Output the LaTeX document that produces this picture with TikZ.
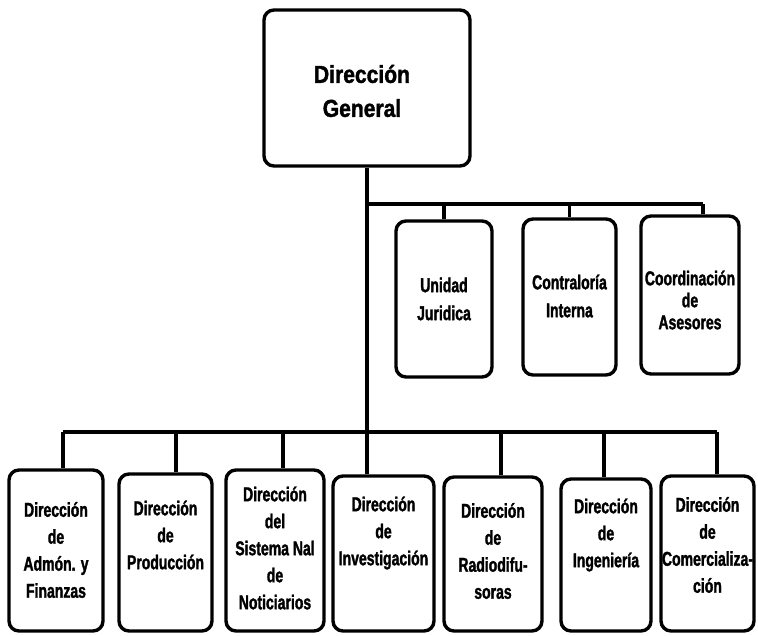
\documentclass[tikz,border=0pt]{standalone}
\usepackage{fontspec}
\setmainfont{Liberation Sans}[FakeStretch=0.7, BoldFeatures={FakeBold=1.5}]
\newfontfamily\topfont{Liberation Sans}[FakeStretch=0.86, BoldFeatures={FakeBold=1.5}]
\begin{document}
\begin{tikzpicture}[x=1pt,y=-1pt,
  box/.style={draw, line width=3.4pt, rounded corners=10pt, inner sep=0pt},
  lbl/.style={font=\bfseries\fontsize{20}{27}\selectfont, align=center, inner sep=0pt},
  ulbl/.style={font=\bfseries\fontsize{20}{28}\selectfont, align=center, inner sep=0pt},
  toplbl/.style={font=\topfont\bfseries\fontsize{24.5}{34}\selectfont, align=center, inner sep=0pt},
  conn/.style={line width=3.2pt}]
\useasboundingbox[fill=white] (0,0) rectangle (758,636);

% top box
\node[box, minimum width=206pt, minimum height=156pt] (top) at (367,88) {};
\node[toplbl] (ttop) at (362,91) {Dirección\\General};

% upper staff boxes
\node[box, minimum width=96pt, minimum height=156pt] (u) at (444,299) {};
\node[box, minimum width=93pt, minimum height=156pt] (c) at (569.5,297) {};
\node[box, minimum width=98pt, minimum height=158pt] (co) at (690,295) {};
\node[ulbl] (tu) at (444,299) {Unidad\\Juridica};
\node[ulbl] (tc) at (569.5,296) {Contraloría\\Interna};
\node[lbl, font=\bfseries\fontsize{20}{22}\selectfont] (tco) at (690,300) {Coordinación\\de\\Asesores};

% lower boxes
\node[box, minimum width=94pt, minimum height=161pt] (b1) at (56,550.5) {};
\node[box, minimum width=93pt, minimum height=157pt] (b2) at (165.5,552.5) {};
\node[box, minimum width=98pt, minimum height=161pt] (b3) at (275,550.5) {};
\node[box, minimum width=101pt, minimum height=155pt] (b4) at (383.5,553.5) {};
\node[box, minimum width=98pt, minimum height=154pt] (b5) at (493,554) {};
\node[box, minimum width=90pt, minimum height=152pt] (b6) at (606,555) {};
\node[box, minimum width=93pt, minimum height=155pt] (b7) at (707.5,553.5) {};

\node[lbl] (t1) at (56,550) {Dirección\\de\\Admón. y\\Finanzas};
\node[lbl] (t2) at (165.5,535) {Dirección\\de\\Producción};
\node[lbl] (t3) at (275,548) {Dirección\\del\\Sistema Nal\\de\\Noticiarios};
\node[lbl] (t4) at (383.5,533) {Dirección\\de\\Investigación};
\node[lbl] (t5) at (493,551) {Dirección\\de\\Radiodifu-\\soras};
\node[lbl] (t6) at (606,535) {Dirección\\de\\Ingeniería};
\node[lbl] (t7) at (707.5,545) {Dirección\\de\\Comercializa-\\ción};

% connectors
\coordinate (trunkend) at (top.south |- b4.north);
\draw[conn] (top.south) -- (trunkend);

\coordinate (ubl) at (367,204);
\coordinate (ubr) at (703,204);
\draw[conn] (ubl) -- (ubr);
\draw[conn] (ubl -| u.north) -- (u.north);
\draw[conn] (ubl -| c.north) -- (c.north);
\draw[conn] (ubr) -- (ubr |- co.north);

\coordinate (l1) at (63,432);
\coordinate (l2) at (176,432);
\coordinate (l3) at (283,432);
\coordinate (l5) at (501,432);
\coordinate (l6) at (604,432);
\coordinate (l7) at (717,432);
\draw[conn] (l1) -- (l7);
\draw[conn] (l1) -- (l1 |- b1.north);
\draw[conn] (l2) -- (l2 |- b2.north);
\draw[conn] (l3) -- (l3 |- b3.north);
\draw[conn] (l5) -- (l5 |- b5.north);
\draw[conn] (l6) -- (l6 |- b6.north);
\draw[conn] (l7) -- (l7 |- b7.north);
\end{tikzpicture}
\end{document}
